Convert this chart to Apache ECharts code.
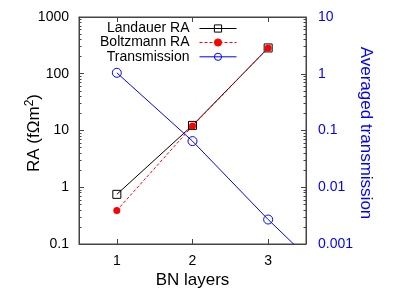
<!DOCTYPE html>
<html><head><meta charset="utf-8">
<script src="https://cdn.jsdelivr.net/npm/echarts@6/dist/echarts.min.js"></script>
<style>html,body{margin:0;padding:0;background:#fff}#c{width:415px;height:291px}</style>
</head><body><div id="c"></div>
<script>
const layers = [1, 2, 3];
const landauerRA = [0.75, 12.3, 285];
const boltzmannRA = [0.39, 12.0, 285];
const transX = [1, 2, 3, 4];
const transmission = [1.04, 0.065, 0.0027, 0.00014];
const xTicks = [1, 2, 3];
const leftMajor = [0.1, 1, 10, 100, 1000];
const rightMajor = [0.001, 0.01, 0.1, 1, 10];
const leftMinor = [0.2,0.3,0.4,0.5,0.6,0.7,0.8,0.9,2,3,4,5,6,7,8,9,20,30,40,50,60,70,80,90,200,300,400,500,600,700,800,900];
const rightMinor = [0.002,0.003,0.004,0.005,0.006,0.007,0.008,0.009,0.02,0.03,0.04,0.05,0.06,0.07,0.08,0.09,0.2,0.3,0.4,0.5,0.6,0.7,0.8,0.9,2,3,4,5,6,7,8,9];
const xTitle = 'BN layers';
const yTitle = 'RA (fΩm{sup|2})';
const y2Title = 'Averaged transmission';

const FONT = "'Liberation Sans', Arial, sans-serif";
const BLUE = '#0000ff';
const FRAME = '#444';

const chart = echarts.init(document.getElementById('c'), null, {renderer: 'canvas'});

function pairs(xs, ys) { return xs.map((x, i) => [x, ys[i]]); }

function legend(name, top) {
  return {
    data: [name], right: 178, top: top, padding: 0, align: 'right',
    itemWidth: 37, itemHeight: 9,
    lineStyle: {width: 1},
    itemStyle: {borderWidth: 1},
    textStyle: {fontFamily: FONT, fontSize: 14, color: '#000', padding: [0, 5, 0, 0]},
    selectedMode: false
  };
}

chart.setOption({
  animation: false,
  grid: {left: 79, right: 109, top: 17, bottom: 47, show: true, borderColor: FRAME, borderWidth: 1},
  legend: [legend('Landauer RA', 21.5), legend('Boltzmann RA', 35.5), legend('Transmission', 49.8)],
  graphic: [{
    type: 'text', x: 192.5, y: 280,
    style: {text: xTitle, font: "17px 'Liberation Sans', Arial, sans-serif", fill: '#000', align: 'center', verticalAlign: 'middle'}
  }, {
    type: 'text', x: 34, y: 133, rotation: Math.PI / 2,
    style: {text: yTitle, font: "17px 'Liberation Sans', Arial, sans-serif", fill: '#000', align: 'center', verticalAlign: 'middle',
      rich: {sup: {fontFamily: FONT, fontSize: 12, fill: '#000', padding: [0, 0, 8, 0]}}}
  }, {
    type: 'text', x: 366, y: 133, rotation: -Math.PI / 2,
    style: {text: y2Title, font: "17px 'Liberation Sans', Arial, sans-serif", fill: BLUE, align: 'center', verticalAlign: 'middle'}
  }],
  xAxis: [{
    type: 'value', min: 0.5, max: 3.5, position: 'bottom',
    axisLine: {show: true, lineStyle: {color: FRAME}},
    axisTick: {show: true, inside: true, length: 5, customValues: xTicks, lineStyle: {color: FRAME}},
    axisLabel: {customValues: xTicks, fontFamily: FONT, fontSize: 14, color: '#000', margin: 10},
    splitLine: {show: false}
  }, {
    type: 'value', min: 0.5, max: 3.5, position: 'top',
    axisLine: {show: true, lineStyle: {color: FRAME}},
    axisTick: {show: true, inside: true, length: 5, customValues: xTicks, lineStyle: {color: FRAME}},
    axisLabel: {show: false},
    splitLine: {show: false}
  }],
  yAxis: [{
    type: 'log', logBase: 10, min: 0.1, max: 1000, position: 'left',
    axisLine: {show: true, lineStyle: {color: FRAME}},
    axisTick: {show: true, inside: true, length: 5, customValues: leftMajor, lineStyle: {color: FRAME}},
    axisLabel: {customValues: leftMajor, fontFamily: FONT, fontSize: 14, color: '#000', margin: 10,
      formatter: v => String(v)},
    splitLine: {show: false}
  }, {
    type: 'log', logBase: 10, min: 0.001, max: 10, position: 'right',
    axisLine: {show: true, lineStyle: {color: FRAME}},
    axisTick: {show: true, inside: true, length: 5, customValues: rightMajor, lineStyle: {color: FRAME}},
    axisLabel: {customValues: rightMajor, fontFamily: FONT, fontSize: 14, color: BLUE, margin: 12,
      formatter: v => String(v)},
    splitLine: {show: false}
  }, {
    type: 'log', logBase: 10, min: 0.1, max: 1000, position: 'left',
    axisLine: {show: false},
    axisTick: {show: true, inside: true, length: 2.5, customValues: leftMinor, lineStyle: {color: FRAME}},
    axisLabel: {show: false}, splitLine: {show: false}
  }, {
    type: 'log', logBase: 10, min: 0.001, max: 10, position: 'right',
    axisLine: {show: false},
    axisTick: {show: true, inside: true, length: 2.5, customValues: rightMinor, lineStyle: {color: FRAME}},
    axisLabel: {show: false}, splitLine: {show: false}
  }],
  series: [{
    name: 'Landauer RA', type: 'line', xAxisIndex: 0, yAxisIndex: 0,
    data: pairs(layers, landauerRA),
    symbol: 'rect', symbolSize: 8,
    lineStyle: {color: '#000', width: 1},
    itemStyle: {color: 'rgba(255,255,255,0)', borderColor: '#000', borderWidth: 1},
    z: 3
  }, {
    name: 'Boltzmann RA', type: 'line', xAxisIndex: 0, yAxisIndex: 0,
    data: pairs(layers, boltzmannRA),
    symbol: 'circle', symbolSize: 7,
    lineStyle: {color: '#ff0000', width: 1, type: [3, 2]},
    itemStyle: {color: '#ff0000', borderColor: '#ff0000', borderWidth: 0},
    z: 4
  }, {
    name: 'Transmission', type: 'line', xAxisIndex: 0, yAxisIndex: 1,
    data: pairs(transX, transmission),
    symbol: 'circle', symbolSize: 9, clip: true,
    lineStyle: {color: BLUE, width: 1},
    itemStyle: {color: 'rgba(255,255,255,0)', borderColor: BLUE, borderWidth: 1},
    z: 2
  }]
});
</script></body></html>
